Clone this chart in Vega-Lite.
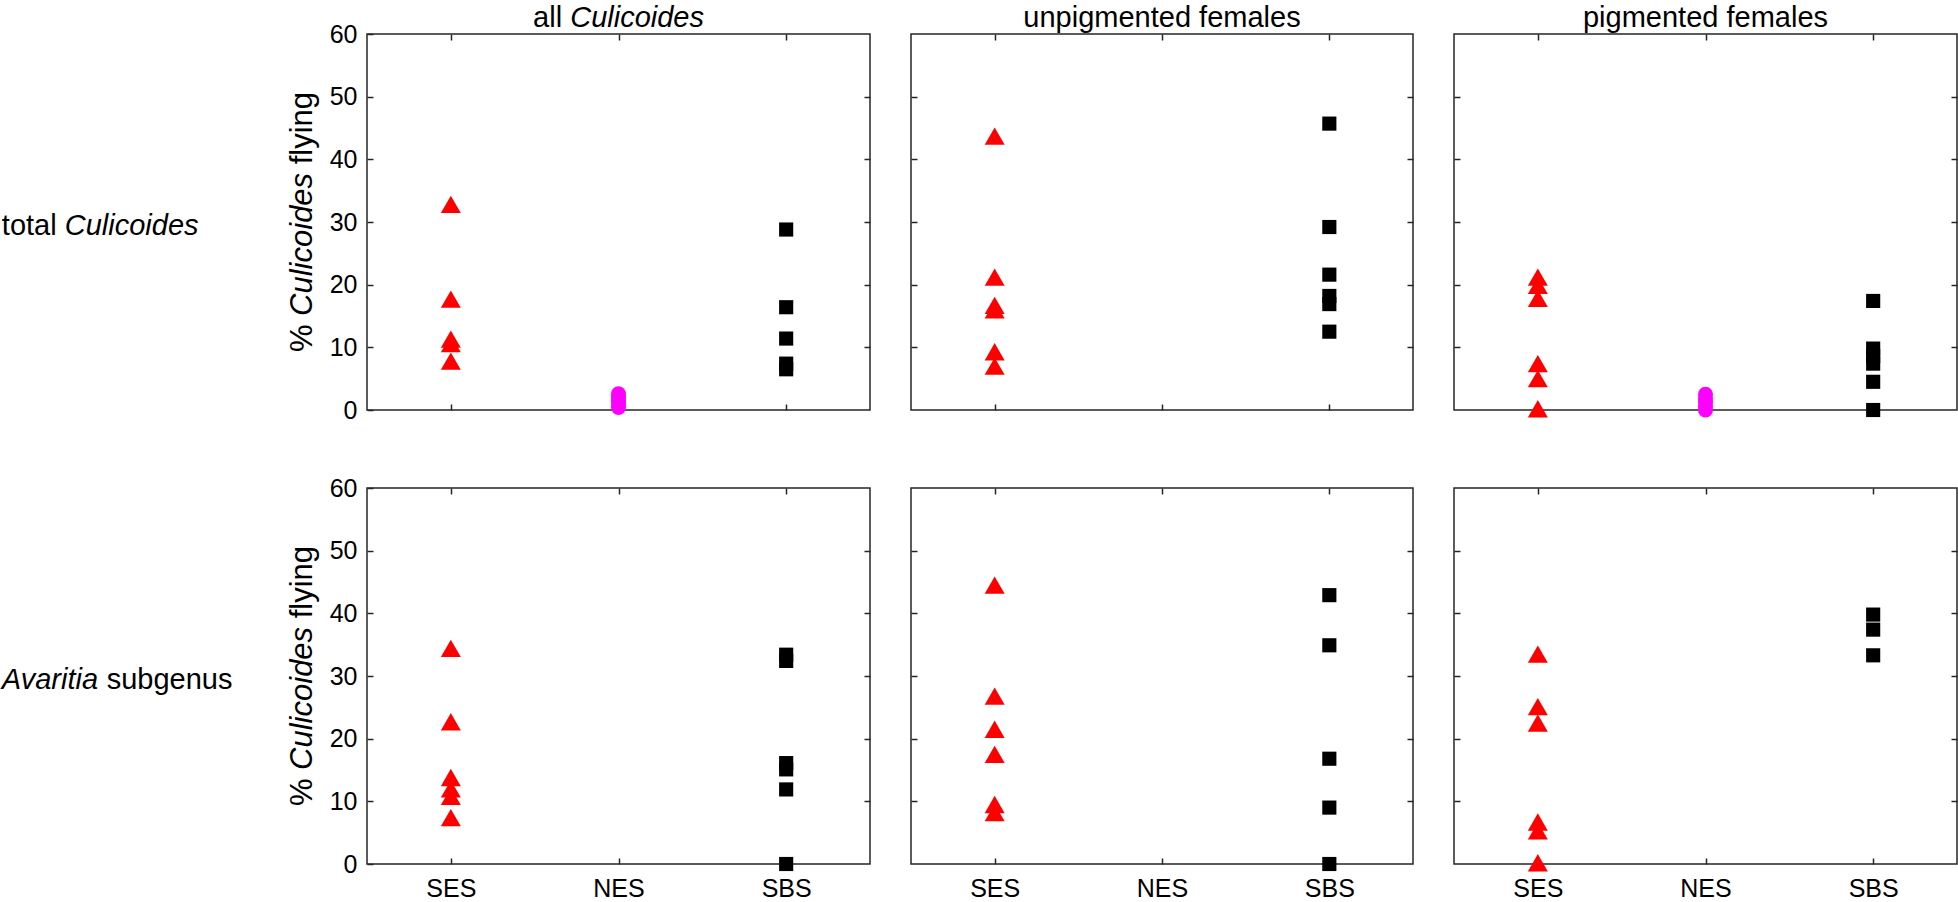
{
  "$schema": "https://vega.github.io/schema/vega-lite/v6.json",
  "padding": {"left": 1, "top": 3, "right": 0, "bottom": 0},
  "background": "white",
  "config": {
    "font": "Liberation Sans",
    "view": {"stroke": "#262626", "strokeWidth": 1.5},
    "axis": {"domain": false, "grid": false, "tickSize": -6, "tickWidth": 1.5, "tickColor": "#262626", "labelFont": "Liberation Sans", "labelFontSize": 25, "labelColor": "#000000", "labelFlush": false, "labelOverlap": false},
    "axisLeft": {"labelPadding": 16},
    "axisBottom": {"labelPadding": 18, "labelAngle": 0},
    "text": {"font": "Liberation Sans", "color": "#000000"}
  },
  "datasets": {
    "pts": [
      {"row": "total", "group": "all", "site": "SES", "pct": 32.8},
      {"row": "total", "group": "all", "site": "SES", "pct": 17.7},
      {"row": "total", "group": "all", "site": "SES", "pct": 11.3},
      {"row": "total", "group": "all", "site": "SES", "pct": 10.6},
      {"row": "total", "group": "all", "site": "SES", "pct": 7.8},
      {"row": "total", "group": "all", "site": "NES", "pct": 0.4},
      {"row": "total", "group": "all", "site": "NES", "pct": 1.0},
      {"row": "total", "group": "all", "site": "NES", "pct": 1.5},
      {"row": "total", "group": "all", "site": "NES", "pct": 2.0},
      {"row": "total", "group": "all", "site": "NES", "pct": 2.6},
      {"row": "total", "group": "all", "site": "SBS", "pct": 28.8},
      {"row": "total", "group": "all", "site": "SBS", "pct": 16.4},
      {"row": "total", "group": "all", "site": "SBS", "pct": 11.4},
      {"row": "total", "group": "all", "site": "SBS", "pct": 7.4},
      {"row": "total", "group": "all", "site": "SBS", "pct": 6.5},
      {"row": "total", "group": "unpig", "site": "SES", "pct": 43.7},
      {"row": "total", "group": "unpig", "site": "SES", "pct": 21.2},
      {"row": "total", "group": "unpig", "site": "SES", "pct": 16.7},
      {"row": "total", "group": "unpig", "site": "SES", "pct": 16.0},
      {"row": "total", "group": "unpig", "site": "SES", "pct": 9.3},
      {"row": "total", "group": "unpig", "site": "SES", "pct": 7.0},
      {"row": "total", "group": "unpig", "site": "SBS", "pct": 45.7},
      {"row": "total", "group": "unpig", "site": "SBS", "pct": 29.2},
      {"row": "total", "group": "unpig", "site": "SBS", "pct": 21.6},
      {"row": "total", "group": "unpig", "site": "SBS", "pct": 18.2},
      {"row": "total", "group": "unpig", "site": "SBS", "pct": 16.9},
      {"row": "total", "group": "unpig", "site": "SBS", "pct": 12.5},
      {"row": "total", "group": "pig", "site": "SES", "pct": 21.2},
      {"row": "total", "group": "pig", "site": "SES", "pct": 19.9},
      {"row": "total", "group": "pig", "site": "SES", "pct": 17.8},
      {"row": "total", "group": "pig", "site": "SES", "pct": 7.4},
      {"row": "total", "group": "pig", "site": "SES", "pct": 5.0},
      {"row": "total", "group": "pig", "site": "SES", "pct": 0.2},
      {"row": "total", "group": "pig", "site": "NES", "pct": 0.0},
      {"row": "total", "group": "pig", "site": "NES", "pct": 0.6},
      {"row": "total", "group": "pig", "site": "NES", "pct": 1.2},
      {"row": "total", "group": "pig", "site": "NES", "pct": 1.8},
      {"row": "total", "group": "pig", "site": "NES", "pct": 2.5},
      {"row": "total", "group": "pig", "site": "SBS", "pct": 17.4},
      {"row": "total", "group": "pig", "site": "SBS", "pct": 9.8},
      {"row": "total", "group": "pig", "site": "SBS", "pct": 8.6},
      {"row": "total", "group": "pig", "site": "SBS", "pct": 7.4},
      {"row": "total", "group": "pig", "site": "SBS", "pct": 4.5},
      {"row": "total", "group": "pig", "site": "SBS", "pct": 0.0},
      {"row": "avar", "group": "all", "site": "SES", "pct": 34.4},
      {"row": "avar", "group": "all", "site": "SES", "pct": 22.7},
      {"row": "avar", "group": "all", "site": "SES", "pct": 13.8},
      {"row": "avar", "group": "all", "site": "SES", "pct": 12.0},
      {"row": "avar", "group": "all", "site": "SES", "pct": 10.8},
      {"row": "avar", "group": "all", "site": "SES", "pct": 7.4},
      {"row": "avar", "group": "all", "site": "SBS", "pct": 33.4},
      {"row": "avar", "group": "all", "site": "SBS", "pct": 32.4},
      {"row": "avar", "group": "all", "site": "SBS", "pct": 16.1},
      {"row": "avar", "group": "all", "site": "SBS", "pct": 15.1},
      {"row": "avar", "group": "all", "site": "SBS", "pct": 11.9},
      {"row": "avar", "group": "all", "site": "SBS", "pct": 0.0},
      {"row": "avar", "group": "unpig", "site": "SES", "pct": 44.5},
      {"row": "avar", "group": "unpig", "site": "SES", "pct": 26.8},
      {"row": "avar", "group": "unpig", "site": "SES", "pct": 21.5},
      {"row": "avar", "group": "unpig", "site": "SES", "pct": 17.5},
      {"row": "avar", "group": "unpig", "site": "SES", "pct": 9.5},
      {"row": "avar", "group": "unpig", "site": "SES", "pct": 8.2},
      {"row": "avar", "group": "unpig", "site": "SBS", "pct": 42.9},
      {"row": "avar", "group": "unpig", "site": "SBS", "pct": 34.9},
      {"row": "avar", "group": "unpig", "site": "SBS", "pct": 16.8},
      {"row": "avar", "group": "unpig", "site": "SBS", "pct": 9.0},
      {"row": "avar", "group": "unpig", "site": "SBS", "pct": 0.0},
      {"row": "avar", "group": "pig", "site": "SES", "pct": 33.5},
      {"row": "avar", "group": "pig", "site": "SES", "pct": 25.1},
      {"row": "avar", "group": "pig", "site": "SES", "pct": 22.5},
      {"row": "avar", "group": "pig", "site": "SES", "pct": 6.7},
      {"row": "avar", "group": "pig", "site": "SES", "pct": 5.3},
      {"row": "avar", "group": "pig", "site": "SES", "pct": 0.2},
      {"row": "avar", "group": "pig", "site": "SBS", "pct": 39.8},
      {"row": "avar", "group": "pig", "site": "SBS", "pct": 37.4},
      {"row": "avar", "group": "pig", "site": "SBS", "pct": 33.3}
    ]
  },
  "columns": 3,
  "spacing": {"row": 78, "column": 41},
  "bounds": "flush",
  "concat": [
    {
      "width": 503, "height": 376,
      "resolve": {"axis": {"x": "independent", "y": "independent"}},
      "layer": [
        {
          "data": {"name": "pts"},
          "transform": [{"filter": "datum.row == 'total' && datum.group == 'all'"}],
          "mark": {"type": "point", "filled": true, "opacity": 1},
          "encoding": {
            "x": {"field": "site", "type": "nominal", "scale": {"type": "point", "domain": ["SES", "NES", "SBS"], "padding": 0.5}, "axis": {"orient": "bottom", "title": null, "labels": false}},
            "y": {"field": "pct", "type": "quantitative", "scale": {"domain": [0, 60], "nice": false, "zero": false}, "axis": {"orient": "left", "title": null, "values": [0, 10, 20, 30, 40, 50, 60]}},
            "shape": {"field": "site", "type": "nominal", "scale": {"domain": ["SES", "NES", "SBS"], "range": ["triangle-up", "circle", "square"]}, "legend": null},
            "color": {"field": "site", "type": "nominal", "scale": {"domain": ["SES", "NES", "SBS"], "range": ["#ff0000", "#ff00ff", "#000000"]}, "legend": null},
            "size": {"field": "site", "type": "nominal", "scale": {"type": "ordinal", "domain": ["SES", "NES", "SBS"], "range": [400, 225, 200]}, "legend": null}
          }
        },
        {
          "data": {"name": "pts"},
          "transform": [{"filter": "datum.row == 'total' && datum.group == 'all'"}],
          "mark": {"type": "point", "opacity": 0},
          "encoding": {
            "x": {"field": "site", "type": "nominal", "axis": {"orient": "top", "title": null, "labels": false}},
            "y": {"field": "pct", "type": "quantitative", "axis": {"orient": "right", "title": null, "labels": false, "values": [10, 20, 30, 40, 50]}}
          }
        },
        {
          "data": {"values": [{"label": "all"}]},
          "mark": {"type": "text", "align": "left", "baseline": "alphabetic", "dx": -85.4, "dy": -7, "fontSize": 29},
          "encoding": {"x": {"datum": "NES", "type": "nominal", "axis": null}, "y": {"datum": 60, "type": "quantitative", "axis": null}, "text": {"field": "label"}}
        },
        {
          "data": {"values": [{"label": "Culicoides"}]},
          "mark": {"type": "text", "align": "left", "baseline": "alphabetic", "dx": -48.3, "dy": -7, "fontSize": 29, "fontStyle": "italic"},
          "encoding": {"x": {"datum": "NES", "type": "nominal", "axis": null}, "y": {"datum": 60, "type": "quantitative", "axis": null}, "text": {"field": "label"}}
        },
        {
          "data": {"values": [{"label": "total"}]},
          "mark": {"type": "text", "align": "left", "baseline": "alphabetic", "dx": -449, "dy": 13, "fontSize": 29},
          "encoding": {"x": {"datum": "SES", "type": "nominal", "axis": null}, "y": {"datum": 30, "type": "quantitative", "axis": null}, "text": {"field": "label"}}
        },
        {
          "data": {"values": [{"label": "Culicoides"}]},
          "mark": {"type": "text", "align": "left", "baseline": "alphabetic", "dx": -386.1, "dy": 13, "fontSize": 29, "fontStyle": "italic"},
          "encoding": {"x": {"datum": "SES", "type": "nominal", "axis": null}, "y": {"datum": 30, "type": "quantitative", "axis": null}, "text": {"field": "label"}}
        },
        {
          "data": {"values": [{"label": "%"}]},
          "mark": {"type": "text", "align": "left", "baseline": "alphabetic", "angle": 270, "dx": -130.1, "dy": -138.8, "fontSize": 31},
          "encoding": {"x": {"datum": "SES", "type": "nominal", "axis": null}, "y": {"datum": 30, "type": "quantitative", "axis": null}, "text": {"field": "label"}}
        },
        {
          "data": {"values": [{"label": "Culicoides"}]},
          "mark": {"type": "text", "align": "left", "baseline": "alphabetic", "angle": 270, "dx": -93.9, "dy": -138.8, "fontSize": 31, "fontStyle": "italic"},
          "encoding": {"x": {"datum": "SES", "type": "nominal", "axis": null}, "y": {"datum": 30, "type": "quantitative", "axis": null}, "text": {"field": "label"}}
        },
        {
          "data": {"values": [{"label": "flying"}]},
          "mark": {"type": "text", "align": "left", "baseline": "alphabetic", "angle": 270, "dx": 57.7, "dy": -138.8, "fontSize": 31},
          "encoding": {"x": {"datum": "SES", "type": "nominal", "axis": null}, "y": {"datum": 30, "type": "quantitative", "axis": null}, "text": {"field": "label"}}
        }
      ]
    },
    {
      "width": 502, "height": 376,
      "resolve": {"axis": {"x": "independent", "y": "independent"}},
      "layer": [
        {
          "data": {"name": "pts"},
          "transform": [{"filter": "datum.row == 'total' && datum.group == 'unpig'"}],
          "mark": {"type": "point", "filled": true, "opacity": 1},
          "encoding": {
            "x": {"field": "site", "type": "nominal", "scale": {"type": "point", "domain": ["SES", "NES", "SBS"], "padding": 0.5}, "axis": {"orient": "bottom", "title": null, "labels": false}},
            "y": {"field": "pct", "type": "quantitative", "scale": {"domain": [0, 60], "nice": false, "zero": false}, "axis": {"orient": "left", "title": null, "labels": false, "values": [10, 20, 30, 40, 50]}},
            "shape": {"field": "site", "type": "nominal", "scale": {"domain": ["SES", "NES", "SBS"], "range": ["triangle-up", "circle", "square"]}, "legend": null},
            "color": {"field": "site", "type": "nominal", "scale": {"domain": ["SES", "NES", "SBS"], "range": ["#ff0000", "#ff00ff", "#000000"]}, "legend": null},
            "size": {"field": "site", "type": "nominal", "scale": {"type": "ordinal", "domain": ["SES", "NES", "SBS"], "range": [400, 225, 200]}, "legend": null}
          }
        },
        {
          "data": {"name": "pts"},
          "transform": [{"filter": "datum.row == 'total' && datum.group == 'unpig'"}],
          "mark": {"type": "point", "opacity": 0},
          "encoding": {
            "x": {"field": "site", "type": "nominal", "axis": {"orient": "top", "title": null, "labels": false}},
            "y": {"field": "pct", "type": "quantitative", "axis": {"orient": "right", "title": null, "labels": false, "values": [10, 20, 30, 40, 50]}}
          }
        },
        {
          "data": {"values": [{"label": "unpigmented females"}]},
          "mark": {"type": "text", "align": "center", "baseline": "alphabetic", "dy": -7, "fontSize": 29},
          "encoding": {"x": {"datum": "NES", "type": "nominal", "axis": null}, "y": {"datum": 60, "type": "quantitative", "axis": null}, "text": {"field": "label"}}
        }
      ]
    },
    {
      "width": 503, "height": 376,
      "resolve": {"axis": {"x": "independent", "y": "independent"}},
      "layer": [
        {
          "data": {"name": "pts"},
          "transform": [{"filter": "datum.row == 'total' && datum.group == 'pig'"}],
          "mark": {"type": "point", "filled": true, "opacity": 1},
          "encoding": {
            "x": {"field": "site", "type": "nominal", "scale": {"type": "point", "domain": ["SES", "NES", "SBS"], "padding": 0.5}, "axis": {"orient": "bottom", "title": null, "labels": false}},
            "y": {"field": "pct", "type": "quantitative", "scale": {"domain": [0, 60], "nice": false, "zero": false}, "axis": {"orient": "left", "title": null, "labels": false, "values": [10, 20, 30, 40, 50]}},
            "shape": {"field": "site", "type": "nominal", "scale": {"domain": ["SES", "NES", "SBS"], "range": ["triangle-up", "circle", "square"]}, "legend": null},
            "color": {"field": "site", "type": "nominal", "scale": {"domain": ["SES", "NES", "SBS"], "range": ["#ff0000", "#ff00ff", "#000000"]}, "legend": null},
            "size": {"field": "site", "type": "nominal", "scale": {"type": "ordinal", "domain": ["SES", "NES", "SBS"], "range": [400, 225, 200]}, "legend": null}
          }
        },
        {
          "data": {"name": "pts"},
          "transform": [{"filter": "datum.row == 'total' && datum.group == 'pig'"}],
          "mark": {"type": "point", "opacity": 0},
          "encoding": {
            "x": {"field": "site", "type": "nominal", "axis": {"orient": "top", "title": null, "labels": false}},
            "y": {"field": "pct", "type": "quantitative", "axis": {"orient": "right", "title": null, "labels": false, "values": [10, 20, 30, 40, 50]}}
          }
        },
        {
          "data": {"values": [{"label": "pigmented females"}]},
          "mark": {"type": "text", "align": "center", "baseline": "alphabetic", "dy": -7, "fontSize": 29},
          "encoding": {"x": {"datum": "NES", "type": "nominal", "axis": null}, "y": {"datum": 60, "type": "quantitative", "axis": null}, "text": {"field": "label"}}
        }
      ]
    },
    {
      "width": 503, "height": 376,
      "resolve": {"axis": {"x": "independent", "y": "independent"}},
      "layer": [
        {
          "data": {"name": "pts"},
          "transform": [{"filter": "datum.row == 'avar' && datum.group == 'all'"}],
          "mark": {"type": "point", "filled": true, "opacity": 1},
          "encoding": {
            "x": {"field": "site", "type": "nominal", "scale": {"type": "point", "domain": ["SES", "NES", "SBS"], "padding": 0.5}, "axis": {"orient": "bottom", "title": null}},
            "y": {"field": "pct", "type": "quantitative", "scale": {"domain": [0, 60], "nice": false, "zero": false}, "axis": {"orient": "left", "title": null, "values": [0, 10, 20, 30, 40, 50, 60]}},
            "shape": {"field": "site", "type": "nominal", "scale": {"domain": ["SES", "NES", "SBS"], "range": ["triangle-up", "circle", "square"]}, "legend": null},
            "color": {"field": "site", "type": "nominal", "scale": {"domain": ["SES", "NES", "SBS"], "range": ["#ff0000", "#ff00ff", "#000000"]}, "legend": null},
            "size": {"field": "site", "type": "nominal", "scale": {"type": "ordinal", "domain": ["SES", "NES", "SBS"], "range": [400, 225, 200]}, "legend": null}
          }
        },
        {
          "data": {"name": "pts"},
          "transform": [{"filter": "datum.row == 'avar' && datum.group == 'all'"}],
          "mark": {"type": "point", "opacity": 0},
          "encoding": {
            "x": {"field": "site", "type": "nominal", "axis": {"orient": "top", "title": null, "labels": false}},
            "y": {"field": "pct", "type": "quantitative", "axis": {"orient": "right", "title": null, "labels": false, "values": [10, 20, 30, 40, 50]}}
          }
        },
        {
          "data": {"values": [{"label": "Avaritia"}]},
          "mark": {"type": "text", "align": "left", "baseline": "alphabetic", "dx": -449, "dy": 13, "fontSize": 29, "fontStyle": "italic"},
          "encoding": {"x": {"datum": "SES", "type": "nominal", "axis": null}, "y": {"datum": 30, "type": "quantitative", "axis": null}, "text": {"field": "label"}}
        },
        {
          "data": {"values": [{"label": "subgenus"}]},
          "mark": {"type": "text", "align": "left", "baseline": "alphabetic", "dx": -344.2, "dy": 13, "fontSize": 29},
          "encoding": {"x": {"datum": "SES", "type": "nominal", "axis": null}, "y": {"datum": 30, "type": "quantitative", "axis": null}, "text": {"field": "label"}}
        },
        {
          "data": {"values": [{"label": "%"}]},
          "mark": {"type": "text", "align": "left", "baseline": "alphabetic", "angle": 270, "dx": -130.1, "dy": -138.8, "fontSize": 31},
          "encoding": {"x": {"datum": "SES", "type": "nominal", "axis": null}, "y": {"datum": 30, "type": "quantitative", "axis": null}, "text": {"field": "label"}}
        },
        {
          "data": {"values": [{"label": "Culicoides"}]},
          "mark": {"type": "text", "align": "left", "baseline": "alphabetic", "angle": 270, "dx": -93.9, "dy": -138.8, "fontSize": 31, "fontStyle": "italic"},
          "encoding": {"x": {"datum": "SES", "type": "nominal", "axis": null}, "y": {"datum": 30, "type": "quantitative", "axis": null}, "text": {"field": "label"}}
        },
        {
          "data": {"values": [{"label": "flying"}]},
          "mark": {"type": "text", "align": "left", "baseline": "alphabetic", "angle": 270, "dx": 57.7, "dy": -138.8, "fontSize": 31},
          "encoding": {"x": {"datum": "SES", "type": "nominal", "axis": null}, "y": {"datum": 30, "type": "quantitative", "axis": null}, "text": {"field": "label"}}
        }
      ]
    },
    {
      "width": 502, "height": 376,
      "resolve": {"axis": {"x": "independent", "y": "independent"}},
      "layer": [
        {
          "data": {"name": "pts"},
          "transform": [{"filter": "datum.row == 'avar' && datum.group == 'unpig'"}],
          "mark": {"type": "point", "filled": true, "opacity": 1},
          "encoding": {
            "x": {"field": "site", "type": "nominal", "scale": {"type": "point", "domain": ["SES", "NES", "SBS"], "padding": 0.5}, "axis": {"orient": "bottom", "title": null}},
            "y": {"field": "pct", "type": "quantitative", "scale": {"domain": [0, 60], "nice": false, "zero": false}, "axis": {"orient": "left", "title": null, "labels": false, "values": [10, 20, 30, 40, 50]}},
            "shape": {"field": "site", "type": "nominal", "scale": {"domain": ["SES", "NES", "SBS"], "range": ["triangle-up", "circle", "square"]}, "legend": null},
            "color": {"field": "site", "type": "nominal", "scale": {"domain": ["SES", "NES", "SBS"], "range": ["#ff0000", "#ff00ff", "#000000"]}, "legend": null},
            "size": {"field": "site", "type": "nominal", "scale": {"type": "ordinal", "domain": ["SES", "NES", "SBS"], "range": [400, 225, 200]}, "legend": null}
          }
        },
        {
          "data": {"name": "pts"},
          "transform": [{"filter": "datum.row == 'avar' && datum.group == 'unpig'"}],
          "mark": {"type": "point", "opacity": 0},
          "encoding": {
            "x": {"field": "site", "type": "nominal", "axis": {"orient": "top", "title": null, "labels": false}},
            "y": {"field": "pct", "type": "quantitative", "axis": {"orient": "right", "title": null, "labels": false, "values": [10, 20, 30, 40, 50]}}
          }
        }
      ]
    },
    {
      "width": 503, "height": 376,
      "resolve": {"axis": {"x": "independent", "y": "independent"}},
      "layer": [
        {
          "data": {"name": "pts"},
          "transform": [{"filter": "datum.row == 'avar' && datum.group == 'pig'"}],
          "mark": {"type": "point", "filled": true, "opacity": 1},
          "encoding": {
            "x": {"field": "site", "type": "nominal", "scale": {"type": "point", "domain": ["SES", "NES", "SBS"], "padding": 0.5}, "axis": {"orient": "bottom", "title": null}},
            "y": {"field": "pct", "type": "quantitative", "scale": {"domain": [0, 60], "nice": false, "zero": false}, "axis": {"orient": "left", "title": null, "labels": false, "values": [10, 20, 30, 40, 50]}},
            "shape": {"field": "site", "type": "nominal", "scale": {"domain": ["SES", "NES", "SBS"], "range": ["triangle-up", "circle", "square"]}, "legend": null},
            "color": {"field": "site", "type": "nominal", "scale": {"domain": ["SES", "NES", "SBS"], "range": ["#ff0000", "#ff00ff", "#000000"]}, "legend": null},
            "size": {"field": "site", "type": "nominal", "scale": {"type": "ordinal", "domain": ["SES", "NES", "SBS"], "range": [400, 225, 200]}, "legend": null}
          }
        },
        {
          "data": {"name": "pts"},
          "transform": [{"filter": "datum.row == 'avar' && datum.group == 'pig'"}],
          "mark": {"type": "point", "opacity": 0},
          "encoding": {
            "x": {"field": "site", "type": "nominal", "axis": {"orient": "top", "title": null, "labels": false}},
            "y": {"field": "pct", "type": "quantitative", "axis": {"orient": "right", "title": null, "labels": false, "values": [10, 20, 30, 40, 50]}}
          }
        }
      ]
    }
  ]
}
